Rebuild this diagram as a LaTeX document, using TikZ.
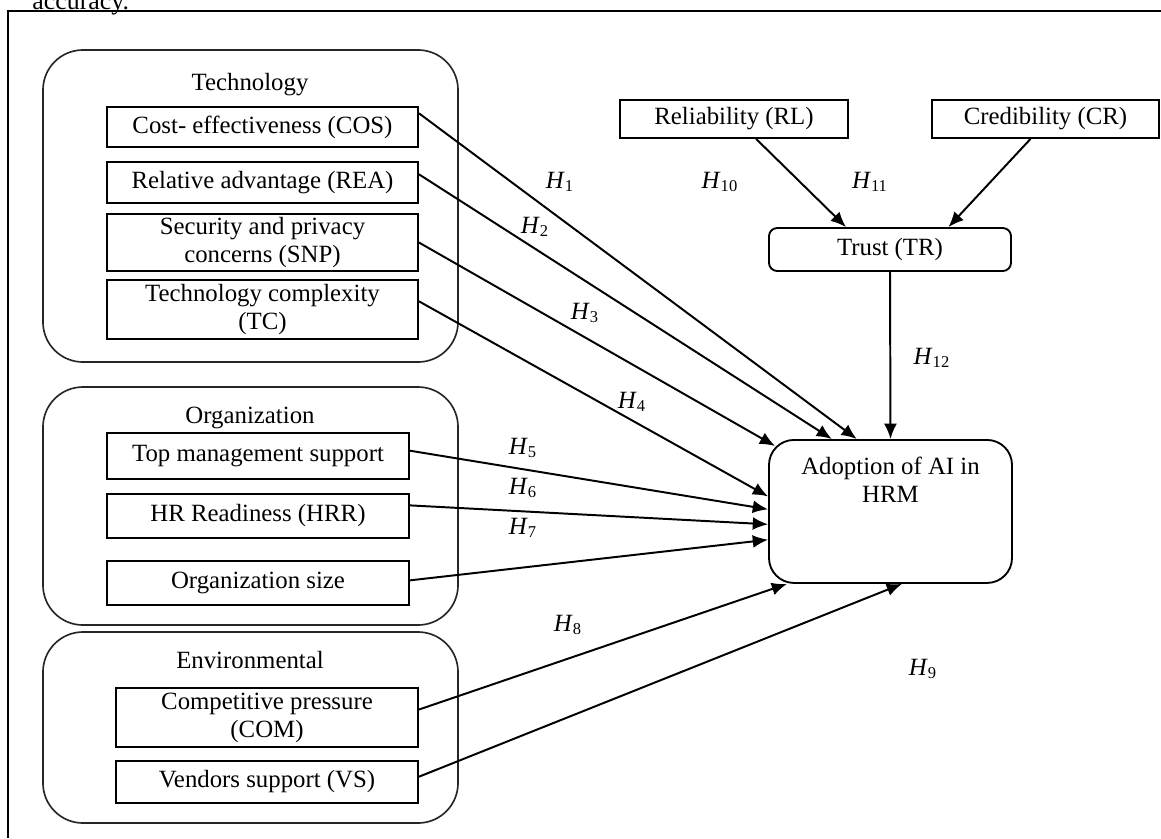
\documentclass[tikz,border=0pt]{standalone}
\usepackage{fontspec}
\setmainfont{Liberation Serif}
\usetikzlibrary{positioning,arrows.meta,calc}

\newcommand{\hyp}[1]{\textit{H}\textsubscript{#1}}

\begin{document}
\begin{tikzpicture}[x=0.017cm,y=-0.017cm,
    every node/.style={font=\fontsize{12}{13.5}\selectfont},
    group/.style={draw=black!85,line width=0.8pt,rounded corners=0.68cm,minimum width=7.055cm},
    factor/.style={draw,line width=0.9pt,align=center,inner sep=1pt},
    link/.style={-{Latex[length=2.6mm,width=2.2mm]},line width=0.95pt}]
    \useasboundingbox (0,0) rectangle (1161,838);

    % cut-off line of the page text and the frame
    \node[anchor=base west,inner sep=0pt,font=\fontsize{12.5}{14}\selectfont] (acc) at (32,9) {accuracy.};
    \draw[line width=0.7pt] (8,838) -- (8,11) -- (1161,11);

    % groups
    \node[group,minimum height=5.304cm] (techgrp) at (250.5,206) {};
    \node[group,minimum height=4.046cm] (orggrp) at (250.5,506) {};
    \node[group,minimum height=3.247cm] (envgrp) at (250.5,727.5) {};
    \node (techlbl) at (250,85) {Technology};
    \node (orglbl) at (250,418) {Organization};
    \node (envlbl) at (250,660) {Environmental};

    % factors
    \node[factor,minimum width=5.287cm,minimum height=0.68cm] (cos) at (262.5,127) {Cost- effectiveness (COS)};
    \node[factor,minimum width=5.287cm,minimum height=0.697cm] (rea) at (262.5,182.5) {Relative advantage (REA)};
    \node[factor,minimum width=5.287cm,minimum height=0.969cm] (snp) at (262.5,242.5) {Security and privacy\\concerns (SNP)};
    \node[factor,minimum width=5.287cm,minimum height=1.003cm] (tc) at (262.5,309.5) {Technology complexity\\(TC)};
    \node[factor,minimum width=5.134cm,minimum height=0.782cm] (tms) at (258,456) {Top management support};
    \node[factor,minimum width=5.134cm,minimum height=0.748cm] (hrr) at (258,516) {HR Readiness (HRR)};
    \node[factor,minimum width=5.134cm,minimum height=0.748cm] (osz) at (258,583) {Organization size};
    \node[factor,minimum width=5.134cm,minimum height=1.003cm] (com) at (267,717.5) {Competitive pressure\\(COM)};
    \node[factor,minimum width=5.134cm,minimum height=0.714cm] (vs) at (267,782) {Vendors support (VS)};

    \node[factor,minimum width=3.876cm,minimum height=0.646cm] (rl) at (734,119) {Reliability (RL)};
    \node[factor,minimum width=3.859cm,minimum height=0.646cm] (cr) at (1045.5,119) {Credibility (CR)};
    \node[factor,rounded corners=0.14cm,minimum width=4.114cm,minimum height=0.731cm] (trust) at (890,249.5) {Trust (TR)};
    \node[draw,line width=0.9pt,rounded corners=0.425cm,minimum width=4.131cm,minimum height=2.431cm,
          align=center,anchor=north,inner sep=0pt] (aihrm) at (890.5,439) {};
    \node[align=center,anchor=north] (aitext) at (890.5,450) {Adoption of AI in\\HRM};

    % hypotheses
    \draw[link] (cos.5) -- (aihrm.115);
    \draw[link] (rea.3) -- (aihrm.129);
    \draw[link] (snp.east) -- ($(aihrm.north west)+(7,7)$);
    \draw[link] (tc.3) -- (aihrm.173);
    \draw[link] (tms.2) -- (aihrm.179);
    \draw[link] (hrr.4) -- (aihrm.186);
    \draw[link] (osz.1) -- (aihrm.193);
    \draw[link] (com.3) -- (aihrm.215);
    \draw[link] (vs.2) -- (aihrm.279);
    \draw[link] (rl.318) -- (trust.153);
    \draw[link] (cr.233) -- (trust.21);
    \draw[link] (trust.south) -- (aihrm.north);

    \node (h1) at (560,182) {\hyp{1}};
    \node (h2) at (535,227) {\hyp{2}};
    \node (h3) at (585,313) {\hyp{3}};
    \node (h4) at (632,402) {\hyp{4}};
    \node (h5) at (523,448) {\hyp{5}};
    \node (h6) at (523,488) {\hyp{6}};
    \node (h7) at (523,528) {\hyp{7}};
    \node (h8) at (568,625) {\hyp{8}};
    \node (h9) at (923,669) {\hyp{9}};
    \node (h10) at (720,182) {\hyp{10}};
    \node (h11) at (870,182) {\hyp{11}};
    \node (h12) at (932,358) {\hyp{12}};
\end{tikzpicture}
\end{document}
